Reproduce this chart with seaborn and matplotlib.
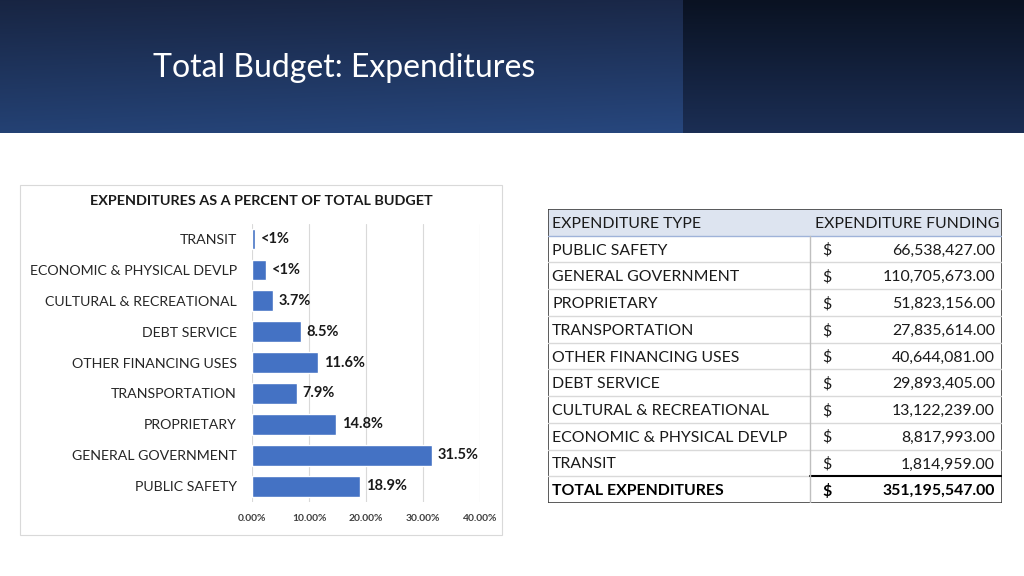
import numpy as np
import pandas as pd
import matplotlib.pyplot as plt
import matplotlib.patches as patches
from matplotlib.ticker import FuncFormatter
import seaborn as sns

# table order (chart draws it reversed)
categories = ['PUBLIC SAFETY', 'GENERAL GOVERNMENT', 'PROPRIETARY', 'TRANSPORTATION',
              'OTHER FINANCING USES', 'DEBT SERVICE', 'CULTURAL & RECREATIONAL',
              'ECONOMIC & PHYSICAL DEVLP', 'TRANSIT']
amounts = [66538427.00, 110705673.00, 51823156.00, 27835614.00, 40644081.00,
           29893405.00, 13122239.00, 8817993.00, 1814959.00]
bar_labels = ['18.9%', '31.5%', '14.8%', '7.9%', '11.6%', '8.5%', '3.7%', '<1%', '<1%']
x_ticks = [0.0, 0.1, 0.2, 0.3, 0.4]

total = sum(amounts)
df = pd.DataFrame({'type': categories, 'amount': amounts, 'label': bar_labels})
df['share'] = df['amount'] / total

sns.set_theme(style='white')
plt.rcParams['font.family'] = ['Lato', 'DejaVu Sans']

fig = plt.figure(figsize=(10.24, 5.76), dpi=100)
fig.patch.set_facecolor('white')

# header band
hdr = fig.add_axes([0, 1 - 133 / 576, 1, 133 / 576])
h, w = 133, 1024
split = 683
t = np.linspace(0, 1, h)[:, None]
s = np.linspace(0, 1, split)[None, :]
left_top = np.array([0x1a, 0x28, 0x48]) / 255
left_bot = np.array([0x27, 0x47, 0x7e]) / 255
right_top = np.array([0x0a, 0x12, 0x22]) / 255
right_bot = np.array([0x1b, 0x2e, 0x54]) / 255
img = np.zeros((h, w, 3))
for c in range(3):
    lt = left_top[c] + (left_bot[c] - left_top[c]) * t
    rt = right_top[c] + (right_bot[c] - right_top[c]) * t
    img[:, :split, c] = (lt * (0.92 + 0.08 * s)).clip(0, 1)
    img[:, split:, c] = np.repeat(rt, w - split, axis=1)
hdr.imshow(img, aspect='auto', extent=[0, w, h, 0])
hdr.set_axis_off()
fig.text(153 / 1024, 1 - 68 / 576, 'Total Budget: Expenditures', color='white',
         fontsize=23, va='center', ha='left')

# chart box
fig.add_artist(patches.Rectangle((20 / 1024, 1 - 535 / 576), 482 / 1024, 350 / 576,
                                 transform=fig.transFigure, fill=False,
                                 edgecolor='#d9d9d9', linewidth=0.8))
fig.text(261 / 1024, 1 - 201 / 576, 'EXPENDITURES AS A PERCENT OF TOTAL BUDGET',
         ha='center', va='center', fontsize=10.4, fontweight='bold', color='#1a1a1a')

ax = fig.add_axes([252 / 1024, 74.4 / 576, 228 / 1024, 278 / 576])
order = categories[::-1]
sns.barplot(data=df, x='share', y='type', order=order, orient='h',
            color='#4472C4', width=0.67, saturation=1, ax=ax, zorder=3)
lab = df.set_index('type').loc[order, 'label'].tolist()
ax.bar_label(ax.containers[0], labels=lab, padding=4, fontsize=10.5,
             fontweight='bold', color='#1a1a1a')
ax.set_xlim(0, 0.4)
ax.set_xticks(x_ticks)
ax.xaxis.set_major_formatter(FuncFormatter(lambda v, p: f'{v * 100:.2f}%'))
ax.grid(axis='x', color='#d9d9d9', linewidth=0.8, zorder=0)
ax.set_xlabel('')
ax.set_ylabel('')
for sp in ax.spines.values():
    sp.set_visible(False)
ax.tick_params(axis='x', labelsize=7.4, colors='#404040', length=0, pad=9)
ax.tick_params(axis='y', labelsize=10.2, colors='#262626', length=0, pad=11)
for lbl in ax.get_xticklabels():
    lbl.set_fontweight('bold')
ax.set_facecolor('none')

# table
tb = fig.add_axes([548 / 1024, 1 - 503 / 576, 454 / 1024, 294 / 576])
tb.set_xlim(0, 454)
tb.set_ylim(294, 0)
tb.set_axis_off()
rh = 294 / 11
col = 262
dy = 1.5
tb.add_patch(patches.Rectangle((0, 0), 454, rh, facecolor='#dde4f0', edgecolor='none'))
tb.plot([0, 454], [rh, rh], color='#9fb3d9', lw=1)
fs = 11.4
tb.text(4, rh / 2 + dy, 'EXPENDITURE TYPE', va='center', ha='left', fontsize=fs, color='#1a1a1a')
tb.text(451, rh / 2 + dy, 'EXPENDITURE FUNDING', va='center', ha='right', fontsize=fs, color='#1a1a1a')
for i, (name, val) in enumerate(zip(categories, amounts)):
    y = rh * (i + 1.5) + dy
    tb.text(4, y, name, va='center', ha='left', fontsize=fs, color='#1a1a1a')
    tb.text(274, y, '$', va='center', ha='left', fontsize=fs, color='#1a1a1a')
    tb.text(447, y, f'{val:,.2f}', va='center', ha='right', fontsize=fs, color='#1a1a1a')
    if i < len(categories) - 1:
        tb.plot([0, 454], [rh * (i + 2)] * 2, color='#d9d9d9', lw=1)
y = rh * 10.5 + dy
tb.text(4, y, 'TOTAL EXPENDITURES', va='center', ha='left', fontsize=fs,
        fontweight='bold', color='#000000')
tb.text(274, y, '$', va='center', ha='left', fontsize=fs, fontweight='bold', color='#000000')
tb.text(447, y, f'{total:,.2f}', va='center', ha='right', fontsize=fs,
        fontweight='bold', color='#000000')
tb.plot([0, col], [rh * 10] * 2, color='#d9d9d9', lw=1)
tb.plot([col, 454], [rh * 10] * 2, color='#000000', lw=1.5)
tb.plot([col, col], [rh, 294], color='#bfbfbf', lw=1)
tb.add_patch(patches.Rectangle((0, 0), 454, 294, fill=False, edgecolor='#404040', lw=1.2))

fig.savefig('out.png', dpi=100)
